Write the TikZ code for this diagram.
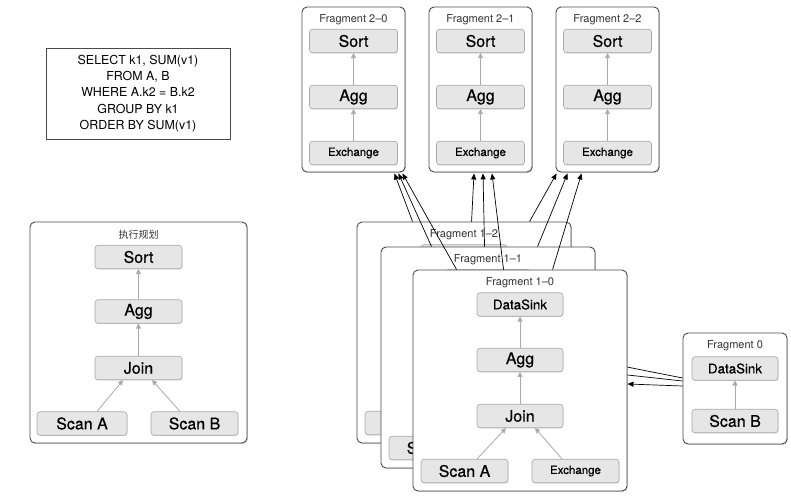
\documentclass[tikz,border=0pt]{standalone}
\usepackage{fontspec}
\setmainfont{TeX Gyre Heros}
\newfontfamily\opfam{TeX Gyre Heros}[FakeBold=0.5]
\newfontfamily\cjk{Noto Sans CJK SC}
\usetikzlibrary{arrows.meta,shadows,calc}
\definecolor{opfill}{HTML}{E6E6E6}
\definecolor{opline}{HTML}{A8A8A8}
\definecolor{fragline}{HTML}{4A4A4A}
\definecolor{flowgray}{HTML}{AAAAAA}
\newcommand{\exfont}{\opfam\fontsize{11.5}{11.5}\selectfont}
\newcommand{\dsfont}{\opfam\fontsize{13.3}{13.3}\selectfont}
\newcommand{\fragtwo}[3]{%
  \node[frag, minimum width=103pt, minimum height=165pt] (#1) at (#2,89.5) {};
  \node[fragtitle] (#1t) at (#2,20) {#3};
  \node[op, minimum width=88pt] (#1s) at (#2,41) {Sort};
  \node[op, minimum width=88pt] (#1a) at (#2,97) {Agg};
  \node[op, minimum width=88pt, font=\exfont] (#1e) at (#2,153) {Exchange};
  \draw[flow] (#1e.north) -- (#1a.south);
  \draw[flow] (#1a.north) -- (#1s.south);
}
\newcommand{\fragone}[4]{%
  \node[frag, minimum width=214pt, minimum height=221pt] (#1) at ({520+#2},{380.5+#3}) {};
  \node[fragtitle] (#1t) at ({520+#2},{283+#3}) {#4};
  \node[op, minimum width=86pt, font=\dsfont] (#1d) at ({520+#2},{304.5+#3}) {DataSink};
  \node[op, minimum width=86pt] (#1a) at ({520+#2},{360+#3}) {Agg};
  \node[op, minimum width=86pt] (#1j) at ({520+#2},{416+#3}) {Join};
  \node[op, minimum width=87pt] (#1s) at ({464.5+#2},{471+#3}) {Scan A};
  \node[op, minimum width=87pt, font=\exfont] (#1e) at ({575.5+#2},{471+#3}) {Exchange};
  \draw[flow] (#1a.north) -- (#1d.south);
  \draw[flow] (#1j.north) -- (#1a.south);
  \draw[flow] ([xshift=12.5pt]#1s.north) -- ([xshift=-14pt]#1j.south);
  \draw[flow] ([xshift=-13.5pt]#1e.north) -- ([xshift=15pt]#1j.south);
}
\begin{document}
\begin{tikzpicture}[x=1pt,y=-1pt,
  op/.style={draw=opline, fill=opfill, rounded corners=3pt, minimum height=23.5pt,
    inner sep=0pt, line width=0.6pt, font=\opfam\fontsize{16}{16}\selectfont,
    drop shadow={shadow xshift=0.4pt, shadow yshift=-0.7pt, opacity=0.3, fill=black!60}},
  frag/.style={draw=fragline, fill=white, rounded corners=5pt, line width=0.9pt, inner sep=0pt,
    drop shadow={shadow xshift=0.8pt, shadow yshift=-0.8pt, opacity=0.35, fill=black!60}},
  fragtitle/.style={font=\fontsize{11}{11}\selectfont, text=black!80, inner sep=0pt},
  flow/.style={draw=flowgray, line width=0.8pt, -{Triangle[width=5pt,length=5pt]}},
  xfer/.style={draw=black, line width=0.7pt, -{Triangle[width=5pt,length=6pt]}},
]
\useasboundingbox[fill=white] (0,0) rectangle (791,495);

% SQL text
\node[draw=fragline, line width=0.8pt, minimum width=184pt, minimum height=91pt, inner sep=0pt,
  align=center, font=\fontsize{12.4}{16.2}\selectfont] (sql) at (138,93.5)
  {SELECT k1, SUM(v1)\\FROM A, B\\WHERE A.k2 = B.k2\\GROUP BY k1\\ORDER BY SUM(v1)};

% logical plan
\node[frag, minimum width=217pt, minimum height=221pt] (plan) at (138.5,332.5) {};
\node[fragtitle, font=\cjk\fontsize{10}{10}\selectfont] (plant) at (138.5,235) {执行规划};
\node[op, minimum width=87pt] (psort) at (138.5,257) {Sort};
\node[op, minimum width=87pt] (pagg) at (138.5,311.5) {Agg};
\node[op, minimum width=87pt] (pjoin) at (138.5,368) {Join};
\node[op, minimum width=90pt] (pscana) at (82,423.5) {Scan A};
\node[op, minimum width=87pt] (pscanb) at (194.5,423.5) {Scan B};
\draw[flow] (pagg.north) -- (psort.south);
\draw[flow] (pjoin.north) -- (pagg.south);
\draw[flow] ([xshift=15pt]pscana.north) -- ([xshift=-15.5pt]pjoin.south);
\draw[flow] ([xshift=-14.5pt]pscanb.north) -- ([xshift=13.5pt]pjoin.south);

% fragments 2
\fragtwo{fa}{353.5}{Fragment 2–0}
\fragtwo{fb}{480.5}{Fragment 2–1}
\fragtwo{fc}{607.5}{Fragment 2–2}

% fragments 1 (back to front)
\fragone{fq}{-56}{-48}{Fragment 1–2}
\fragone{fp}{-32}{-23}{Fragment 1–1}

% fragment 0
\node[frag, minimum width=104pt, minimum height=111pt] (fz) at (735,388.5) {};
\node[fragtitle] (fzt) at (735,346) {Fragment 0};
\node[op, minimum width=86pt, font=\dsfont] (fzd) at (735,368.5) {DataSink};
\node[op, minimum width=86pt] (fzs) at (735,421) {Scan B};
\draw[flow] (fzs.north) -- (fzd.south);

% fragment 0 to hidden fragments
\draw[xfer] ([yshift=10.5pt]fz.west) -- ($(fq.east)+(0,23.5)$);
\draw[xfer] ([yshift=7.5pt]fz.west) -- ($(fp.east)+(0,14)$);

\fragone{fo}{0}{0}{Fragment 1–0}
\draw[xfer] ([yshift=2.5pt]fz.west) -- ($(fo.east)+(0,3.5)$);

% fragments 1 to fragments 2
\draw[xfer] ([xshift=56pt]fq.north west) -- ([xshift=-11pt,yshift=-1pt]fa.south east);
\draw[xfer] ([xshift=51pt]fp.north west) -- ([xshift=-7pt,yshift=-1pt]fa.south east);
\draw[xfer] ([xshift=44pt]fo.north west) -- ([xshift=-3pt,yshift=-1pt]fa.south east);
\draw[xfer] ([xshift=115pt]fq.north west) -- ([xshift=-6.5pt,yshift=-1pt]fb.south);
\draw[xfer] ([xshift=104pt]fp.north west) -- ([xshift=2.5pt,yshift=-1pt]fb.south);
\draw[xfer] ([xshift=91pt]fo.north west) -- ([xshift=11.5pt,yshift=-1pt]fb.south);
\draw[xfer] ([xshift=173pt]fq.north west) -- ([xshift=1pt,yshift=-1pt]fc.south west);
\draw[xfer] ([xshift=157pt]fp.north west) -- ([xshift=12pt,yshift=-1pt]fc.south west);
\draw[xfer] ([xshift=140pt]fo.north west) -- ([xshift=26pt,yshift=-1pt]fc.south west);
\end{tikzpicture}
\end{document}
